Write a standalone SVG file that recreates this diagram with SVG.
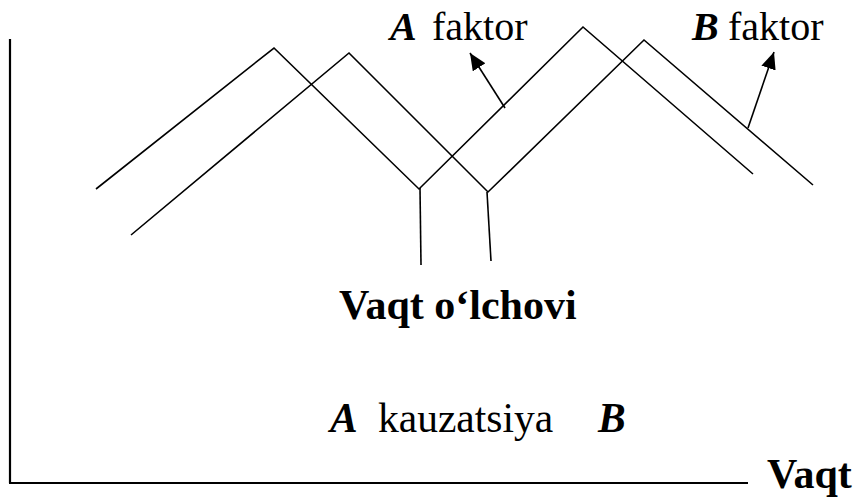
<svg xmlns="http://www.w3.org/2000/svg" width="857" height="500" viewBox="0 0 857 500">
<style>
  .ln{fill:none;stroke:#000;stroke-width:1.6;stroke-linejoin:miter}
  .ax{fill:none;stroke:#000;stroke-width:2.2}
  text{font-family:'Liberation Serif','Times New Roman',Times,'DejaVu Serif',serif;font-size:40px;fill:#000}
  .bi{font-weight:bold;font-style:italic}
  .b{font-weight:bold;font-size:42px}
  .k{font-size:41.5px}
</style>
<defs>
  <marker id="ah2" viewBox="0 0 10 10" refX="10" refY="5" markerWidth="17" markerHeight="15" markerUnits="userSpaceOnUse" orient="auto" preserveAspectRatio="none">
    <path d="M0,0 L10,5 L0,10 z" fill="#000"/>
  </marker>
</defs>
<g id="axes">
  <line class="ax" x1="10" y1="39" x2="10" y2="483"/>
  <line class="ax" x1="9" y1="483" x2="748" y2="483"/>
</g>
<g id="factorA">
  <polyline class="ln" points="96,189 274,48 419,189 583,27 753,174"/>
</g>
<g id="factorB">
  <polyline class="ln" points="131,235 349,53 488,192 644,40 813,185"/>
</g>
<g id="connectors">
  <line class="ln" x1="420" y1="188" x2="421" y2="265"/>
  <line class="ln" x1="487" y1="192" x2="491" y2="261"/>
  <line class="ln" x1="505" y1="108" x2="470" y2="53" marker-end="url(#ah2)"/>
  <line class="ln" x1="748" y1="128" x2="774" y2="52" marker-end="url(#ah2)"/>
</g>
<g id="labels">
  <text y="40"><tspan class="bi" x="390">A</tspan><tspan x="432">faktor</tspan></text>
  <text y="40"><tspan class="bi" x="692">B</tspan><tspan x="728">faktor</tspan></text>
  <text class="b" x="339" y="319">Vaqt o‘lchovi</text>
  <text class="k" y="432"><tspan class="bi" x="330">A</tspan><tspan x="378">kauzatsiya</tspan><tspan class="bi" x="598">B</tspan></text>
  <text class="b" x="767" y="488">Vaqt</text>
</g>
</svg>
